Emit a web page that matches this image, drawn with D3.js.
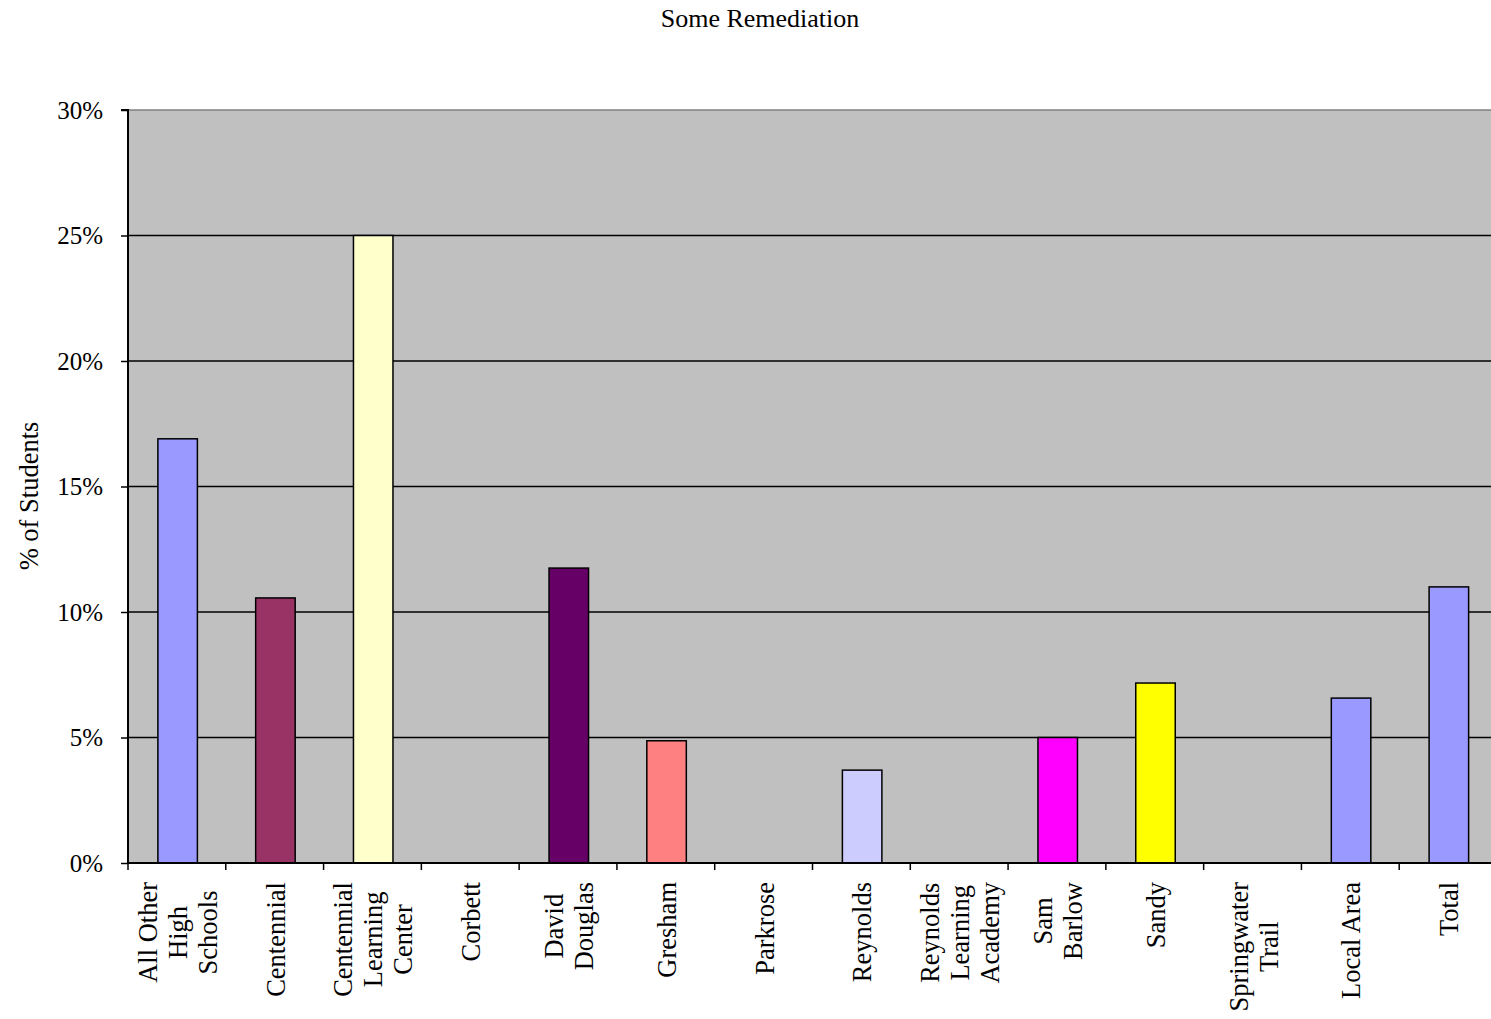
<!DOCTYPE html>
<html>
<head>
<meta charset="utf-8">
<script src="https://cdn.jsdelivr.net/npm/d3@7"></script>
<style>
  html, body { margin: 0; padding: 0; background: #fff; overflow: hidden; }
  text { font-family: "Liberation Serif", "Times New Roman", serif; fill: #000; }
</style>
</head>
<body>
<svg id="chart" width="1491" height="1019"></svg>
<script>
const categories = [
  ["All Other", "High", "Schools"],
  ["Centennial"],
  ["Centennial", "Learning", "Center"],
  ["Corbett"],
  ["David", "Douglas"],
  ["Gresham"],
  ["Parkrose"],
  ["Reynolds"],
  ["Reynolds", "Learning", "Academy"],
  ["Sam", "Barlow"],
  ["Sandy"],
  ["Springwater", "Trail"],
  ["Local Area"],
  ["Total"]
];
const values = [0.169, 0.1056, 0.25, 0, 0.1175, 0.0487, 0, 0.037, 0, 0.050, 0.0717, 0, 0.0657, 0.110];
const barColors = ["#9999FF", "#993366", "#FFFFCC", "#9999FF", "#660066", "#FF8080", "#9999FF", "#CCCCFF", "#9999FF", "#FF00FF", "#FFFF00", "#9999FF", "#9999FF", "#9999FF"];
const yTicks = [0, 0.05, 0.10, 0.15, 0.20, 0.25, 0.30];
const titleText = "Some Remediation";
const yTitle = "% of Students";

const svg = d3.select("#chart");
const pLeft = 128, pRight = 1497, pTop = 110, pBottom = 863;

const xOuter = d3.scaleBand().domain(d3.range(categories.length)).range([pLeft, pRight]);
const y = d3.scaleLinear().domain([0, 0.30]).range([pBottom, pTop]);

// plot background
svg.append("rect").attr("x", pLeft).attr("y", pTop).attr("width", pRight - pLeft).attr("height", pBottom - pTop).attr("fill", "#C0C0C0");

// gridlines
svg.append("g").selectAll("line").data(yTicks.filter(d => d > 0)).join("line")
  .attr("x1", pLeft).attr("x2", pRight)
  .attr("y1", d => y(d)).attr("y2", d => y(d))
  .attr("stroke", d => d === 0.30 ? "#808080" : "#000").attr("stroke-width", 1.5);

// bars
svg.append("g").selectAll("rect").data(values).join("rect")
  .attr("x", (d, i) => xOuter(i) + xOuter.bandwidth() / 2 - 19)
  .attr("width", 39.5)
  .attr("y", d => y(d))
  .attr("height", d => pBottom - y(d))
  .attr("fill", (d, i) => barColors[i])
  .attr("stroke", d => d > 0 ? "#000" : "none")
  .attr("stroke-width", 1.5);

// y axis
const yAxis = d3.axisLeft(y).tickValues(yTicks).tickFormat(d3.format(".0%")).tickSize(7).tickPadding(18);
const gy = svg.append("g").attr("transform", `translate(${pLeft},0)`).call(yAxis);
gy.select(".domain").attr("stroke", "#000").attr("stroke-width", 2).attr("d", `M-7,${pTop}H0V${pBottom}`);
gy.selectAll(".tick line").attr("stroke", "#000").attr("stroke-width", 1.5);
gy.selectAll(".tick text").attr("font-size", 25).attr("font-family", "Liberation Serif").attr("fill", "#000");

// x axis
const xAxis = d3.axisBottom(xOuter).tickSize(0).tickFormat("");
const gx = svg.append("g").attr("transform", `translate(0,${pBottom})`).call(xAxis);
gx.select(".domain").attr("stroke", "#000").attr("stroke-width", 2).attr("d", `M${pLeft},0H${pRight}`);
svg.append("g").selectAll("line").data(d3.range(categories.length + 1)).join("line")
  .attr("x1", i => pLeft + i * xOuter.step()).attr("x2", i => pLeft + i * xOuter.step())
  .attr("y1", pBottom).attr("y2", pBottom + 7)
  .attr("stroke", "#000").attr("stroke-width", 1.5);

// category labels (rotated, multi-line)
const labelTop = 882, lineGap = 30;
const lg = svg.append("g");
categories.forEach((lines, i) => {
  const cx = xOuter(i) + xOuter.bandwidth() / 2 + 1;
  const texts = lines.map((ln, j) => lg.append("text")
    .attr("font-size", 26.5)
    .attr("text-anchor", "middle")
    .attr("dominant-baseline", "central")
    .text(ln));
  const maxLen = d3.max(texts, t => t.node().getComputedTextLength());
  const cy = labelTop + maxLen / 2;
  texts.forEach((t, j) => {
    const off = (j - (lines.length - 1) / 2) * lineGap;
    t.attr("transform", `translate(${cx + off},${cy}) rotate(-90)`);
  });
});

// title
svg.append("text").attr("x", 760).attr("y", 18).attr("text-anchor", "middle")
  .attr("dominant-baseline", "central").attr("font-size", 26).text(titleText);

// y title
svg.append("text").attr("transform", `translate(29,496) rotate(-90)`).attr("text-anchor", "middle")
  .attr("dominant-baseline", "central").attr("font-size", 26.5).text(yTitle);
</script>
</body>
</html>
